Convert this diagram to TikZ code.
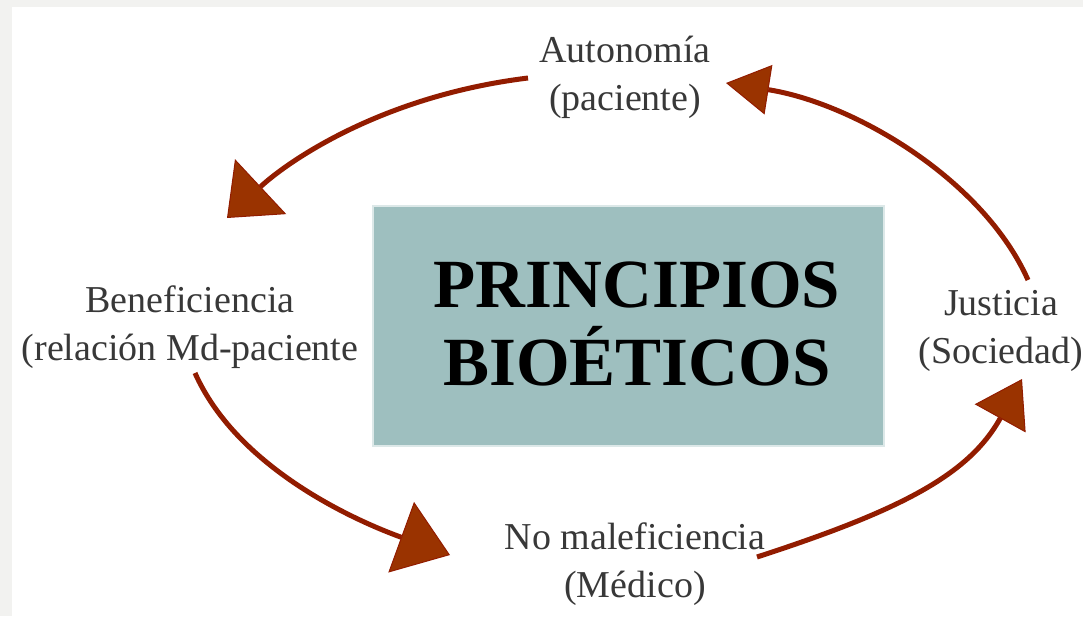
\documentclass[tikz,border=0pt]{standalone}
\usepackage{fontspec}
\setmainfont{Liberation Serif}
\usetikzlibrary{arrows.meta}
\definecolor{bggray}{HTML}{F2F2F0}
\definecolor{boxfill}{HTML}{9EBFBF}
\definecolor{boxedge}{HTML}{DCE8E8}
\definecolor{arrowred}{HTML}{921C00}
\definecolor{headfill}{HTML}{9A3300}
\definecolor{labelgray}{HTML}{383838}

\begin{document}
\begin{tikzpicture}[x=1pt,y=-1pt]
        \useasboundingbox (0,0) rectangle (1083,616);
        \fill[bggray] (0,0) rectangle (1083,616);
        \fill[white] (12,7) rectangle (1083,616);
        \node (box) [rectangle,fill=boxfill,draw=boxedge,line width=2pt,minimum width=511pt,minimum height=240pt] at (628.5,326) {};
        \node (title) [anchor=base,align=center,font=\fontsize{69}{78}\selectfont\bfseries] at (637,385) {PRINCIPIOS\\BIOÉTICOS};
        \begin{scope}[every node/.style={anchor=base,align=center,inner sep=0pt,text=labelgray,font=\fontsize{38}{48}\selectfont}]
            \node (aut) at (625,110) {Autonomía\\(paciente)};
            \node (ben) at (190,360) {Beneficiencia\\(relación Md-paciente};
            \node (nomal) at (635,597) {No maleficiencia\\(Médico)};
            \node (jus) at (1001,363) {Justicia\\(Sociedad)};
        \end{scope}
        \begin{scope}[every edge/.style={draw=arrowred,line width=5pt}]
            \path
                ([shift={(-97,-32)}]aut.base) edge [out=187,in=43,out distance=150pt,in distance=80pt,-{Triangle[length=46pt,width=75pt,line width=1pt,fill=headfill]}] ([shift={(37,-142)}]ben.base)
                ([shift={(5,13)}]ben.base) edge [out=-66,in=160,out distance=100pt,in distance=110pt,-{Triangle[length=52pt,width=75pt,line width=1pt,fill=headfill]}] ([shift={(-185,-42)}]nomal.base)
                ([shift={(122,-40)}]nomal.base) edge [out=18,in=241,out distance=150pt,in distance=110pt,-{Triangle[length=45pt,width=58pt,line width=1pt,fill=headfill]}] ([shift={(21,16)}]jus.base)
                ([shift={(27,-83)}]jus.base) edge [out=114,in=-9,out distance=110pt,in distance=130pt,-{Triangle[length=43pt,width=50pt,line width=1pt,fill=headfill]}] ([shift={(101,-27)}]aut.base);
        \end{scope}
    \end{tikzpicture}
\end{document}
